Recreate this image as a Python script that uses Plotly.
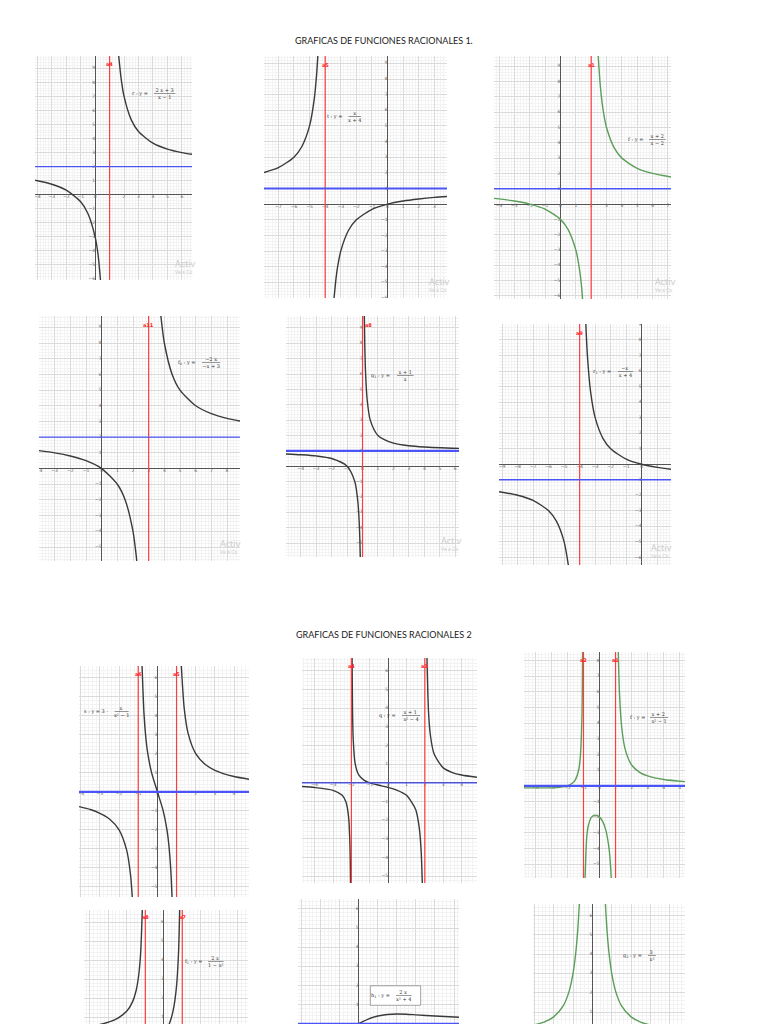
import math
import plotly.graph_objects as go

TITLE_1 = "GRAFICAS DE FUNCIONES RACIONALES 1."
TITLE_2 = "GRAFICAS DE FUNCIONES RACIONALES 2"

# curve points (one x/y list per branch)
P1_X1 = [-4.16, -3, -2, -1, -0.5, 0, 0.2, 0.37]
P1_Y1 = [1.03, 0.75, 0.33, -0.5, -1.33, -3, -4.25, -6.07]
P1_X2 = [1.63, 1.8, 2, 2.5, 3, 4, 5, 6, 6.7]
P1_Y2 = [9.88, 8.25, 7, 5.33, 4.5, 3.67, 3.25, 3, 2.88]

P2_X1 = [-7.92, -7, -6, -5.5, -5, -4.7, -4.55, -4.47]
P2_Y1 = [2.02, 2.33, 3, 3.67, 5, 6.71, 8.27, 9.47]
P2_X2 = [-3.43, -3.3, -3.2, -3, -2.5, -2, -1, 0, 1, 2, 3, 3.81]
P2_Y2 = [-6.0, -4.71, -4.0, -3, -1.67, -1, -0.33, 0, 0.2, 0.33, 0.43, 0.49]

P3_X1 = [-4.33, -3, -2, -1, 0, 0.5, 1, 1.2, 1.35, 1.44]
P3_Y1 = [0.37, 0.2, 0, -0.33, -1, -1.67, -3, -4, -5.15, -6.2]
P3_X2 = [2.46, 2.6, 2.8, 3, 3.5, 4, 5, 6, 7.2]
P3_Y2 = [9.67, 7.67, 6, 5, 3.67, 3, 2.33, 2, 1.77]

P4_X1 = [-4, -3, -2, -1, 0, 1, 1.5, 2, 2.2, 2.24]
P4_Y1 = [1.14, 1, 0.8, 0.5, 0, -1, -2, -4, -5.5, -5.89]
P4_X2 = [3.78, 4, 4.5, 5, 6, 7, 8, 8.83]
P4_Y2 = [9.72, 8, 6, 5, 4, 3.5, 3.2, 3.03]

P5_X1 = [-4.95, -4, -3, -2, -1, -0.5, -0.3, -0.2, -0.145]
P5_Y1 = [0.8, 0.75, 0.67, 0.5, 0, -1, -2.33, -4, -5.91]
P5_X2 = [0.114, 0.15, 0.2, 0.3, 0.5, 1, 2, 3, 4, 6.24]
P5_Y2 = [9.78, 7.67, 6, 4.33, 3, 2, 1.5, 1.33, 1.25, 1.16]

P6_X1 = [-9.2, -8, -7, -6, -5.5, -5, -4.73]
P6_Y1 = [-1.77, -2, -2.33, -3, -3.67, -5, -6.49]
P6_X2 = [-3.6, -3.5, -3.3, -3, -2.5, -2, -1, 0, 1, 1.89]
P6_Y2 = [9.03, 7, 4.71, 3, 1.67, 1, 0.33, 0, -0.2, -0.32]

P7_X1 = [-4.09, -3.5, -3, -2.5, -2, -1.6, -1.4, -1.31]
P7_Y1 = [-0.78, -0.93, -1.13, -1.43, -2, -3.08, -4.38, -5.53]
P7_X2 = [-0.8, -0.7, -0.6, -0.5, -0.3, 0, 0.3, 0.5, 0.6, 0.7, 0.765]
P7_Y2 = [6.61, 4.12, 2.81, 2, 0.99, 0, -0.99, -2, -2.81, -4.12, -5.53]
P7_X3 = [1.25, 1.4, 1.6, 2, 2.5, 3, 4, 4.78]
P7_Y3 = [6.61, 4.38, 3.08, 2, 1.43, 1.13, 0.8, 0.66]

P8_X1 = [-4.69, -4, -3, -2.5, -2.3, -2.15, -2.08, -2.048]
P8_Y1 = [-0.2, -0.25, -0.4, -0.67, -1.01, -1.85, -3.3, -5.36]
P8_X2 = [-1.963, -1.94, -1.9, -1.8, -1.6, -1.3, -1, -0.5, 0, 0.5, 1, 1.5, 1.7, 1.8, 1.862]
P8_Y2 = [6.68, 3.98, 2.31, 1.05, 0.42, 0.13, 0, -0.13, -0.25, -0.4, -0.67, -1.43, -2.44, -3.68, -5.36]
P8_X3 = [2.115, 2.2, 2.3, 2.5, 3, 3.5, 4, 4.84]
P8_Y3 = [6.68, 3.81, 2.56, 1.56, 0.8, 0.55, 0.42, 0.3]

P9_X1 = [-4.71, -4, -3, -2.5, -2, -1.7, -1.5, -1.3, -1.2, -1.1, -1.054]
P9_Y1 = [-0.13, -0.13, -0.13, -0.1, 0, 0.16, 0.4, 1.01, 1.82, 4.29, 8.55]
P9_X2 = [-0.902, -0.8, -0.7, -0.5, -0.27, 0, 0.2, 0.4, 0.6, 0.7, 0.73]
P9_Y2 = [-5.89, -3.33, -2.55, -2, -1.87, -2, -2.29, -2.86, -4.06, -5.29, -5.89]
P9_X3 = [1.17, 1.25, 1.4, 1.6, 2, 2.5, 3, 4, 5.33]
P9_Y3 = [8.55, 5.78, 3.58, 2.33, 1.33, 0.86, 0.63, 0.4, 0.27]

P10_X1 = [-4.32, -3.5, -3, -2.5, -2, -1.7, -1.5, -1.35, -1.25, -1.162]
P10_Y1 = [0.49, 0.62, 0.75, 0.95, 1.33, 1.8, 2.4, 3.28, 4.44, 6.65]
P10_X2 = [0, 0.2, 0.3, 0.4, 0.5, 0.6, 0.7, 0.8, 0.861]
P10_Y2 = [0, 0.42, 0.66, 0.95, 1.33, 1.88, 2.75, 4.44, 6.65]

P11_X1 = [-0.5, 0, 0.5, 1, 1.5, 2, 2.5, 3, 4, 5.26]
P11_Y1 = [-0.24, 0, 0.24, 0.4, 0.48, 0.5, 0.49, 0.46, 0.4, 0.33]

P12_X1 = [-3.07, -2.5, -2, -1.5, -1.2, -1, -0.85, -0.75, -0.675]
P12_Y1 = [0.32, 0.48, 0.75, 1.33, 2.08, 3, 4.15, 5.33, 6.59]
P12_X2 = [0.675, 0.75, 0.85, 1, 1.2, 1.5, 2, 2.5, 3, 3.5]
P12_Y2 = [6.59, 5.33, 4.15, 3, 2.08, 1.33, 0.75, 0.48, 0.33, 0.24]

# asymptotes (red = vertical, blue = horizontal) and their red names
ASYM_V = [[1], [-4], [2], [3], [0], [-4], [-1, 1], [-2, 2], [-1, 1], [-1, 1], [], []]
ASYM_V_NAMES = [["a4"], ["a5"], ["a1"], ["a11"], ["a8"], ["a9"], ["a6", "a5"],
                ["a4", "a3"], ["a2", "a1"], ["a8", "a7"], [], []]
ASYM_H = [[2], [1], [1], [2], [1], [-1], [0], [0], [0], [], [0], []]

# function labels
LABEL_LEFT = ["r : y =", "t : y =", "f : y =", "f<sub>0</sub> : y =", "g<sub>1</sub> : y =",
              "r<sub>1</sub> : y =", "s : y = 3 ·", "q : y =", "f : y =",
              "f<sub>1</sub> : y =", "h<sub>1</sub> : y =", "g<sub>2</sub> : y ="]
LABEL_NUM = ["2 x + 3", "x", "x + 2", "−2 x", "x + 1", "−x", "x", "x + 1", "x + 2", "2 x", "2 x", "3"]
LABEL_DEN = ["x − 1", "x + 4", "x − 2", "−x + 3", "x", "x + 4", "x² − 1", "x² − 4", "x² − 1",
             "1 − x²", "x² + 4", "x²"]

CURVES = [
    [(P1_X1, P1_Y1), (P1_X2, P1_Y2)],
    [(P2_X1, P2_Y1), (P2_X2, P2_Y2)],
    [(P3_X1, P3_Y1), (P3_X2, P3_Y2)],
    [(P4_X1, P4_Y1), (P4_X2, P4_Y2)],
    [(P5_X1, P5_Y1), (P5_X2, P5_Y2)],
    [(P6_X1, P6_Y1), (P6_X2, P6_Y2)],
    [(P7_X1, P7_Y1), (P7_X2, P7_Y2), (P7_X3, P7_Y3)],
    [(P8_X1, P8_Y1), (P8_X2, P8_Y2), (P8_X3, P8_Y3)],
    [(P9_X1, P9_Y1), (P9_X2, P9_Y2), (P9_X3, P9_Y3)],
    [(P10_X1, P10_Y1), (P10_X2, P10_Y2)],
    [(P11_X1, P11_Y1)],
    [(P12_X1, P12_Y1), (P12_X2, P12_Y2)],
]

# layout of each screenshot on the page (pixels), axis windows,
# label spots: (end of "name : y =", label middle y, left of fraction)
W, H = 768, 1024
DARK = "#3a3a3a"
GREEN = "#5a9e5a"
PANELS = [
    dict(box=(35, 56, 192, 280), xr=(-4.16, 6.7), yr=(-6.07, 9.88), col=DARK, bw=1.3, lab=(3.76, 7.2, 3.94)),
    dict(box=(264, 56, 447, 298), xr=(-7.92, 3.81), yr=(-6.0, 9.47), col=DARK, bw=2.2, lab=(-2.8, 5.6, -2.68)),
    dict(box=(494, 56, 671, 299), xr=(-4.33, 7.2), yr=(-6.2, 9.67), col=GREEN, bw=1.6, lab=(5.5, 4.2, 5.65)),
    dict(box=(39, 316, 240, 561), xr=(-4.0, 8.83), yr=(-5.89, 9.72), col=DARK, bw=1.2, lab=(6.17, 6.74, 6.28)),
    dict(box=(286, 316, 459, 557), xr=(-4.95, 6.24), yr=(-5.91, 9.78), col=DARK, bw=2.2, lab=(1.9, 5.9, 2.1),
         va="left"),
    dict(box=(499, 324, 671, 565), xr=(-9.2, 1.89), yr=(-6.49, 9.03), col=DARK, bw=1.3, lab=(-1.83, 5.98, -1.65)),
    dict(box=(79, 666, 249, 897), xr=(-4.09, 4.78), yr=(-5.53, 6.61), col=DARK, bw=2.2, lab=(-2.47, 4.2, -2.35)),
    dict(box=(302, 658, 477, 883), xr=(-4.69, 4.84), yr=(-5.36, 6.68), col=DARK, bw=1.3, lab=(0.53, 3.6, 0.65)),
    dict(box=(524, 652, 685, 878), xr=(-4.71, 5.33), yr=(-5.89, 8.55), col=GREEN, bw=2.2, lab=(2.94, 4.36, 3.04)),
    dict(box=(84, 910, 248, 1024), xr=(-4.32, 4.56), yr=(0.65, 6.65), col=DARK, bw=1.3, lab=(2.22, 3.93, 2.31)),
    dict(box=(298, 899, 459, 1024), xr=(-3.18, 5.26), yr=(-0.02, 6.52), col=DARK, bw=1.6, lab=(1.75, 1.47, 1.84)),
    dict(box=(533, 904, 685, 1024), xr=(-3.07, 4.79), yr=(0.38, 6.59), col=GREEN, bw=1.3, lab=(2.67, 3.93, 2.79)),
]
# "Activar Windows" watermark left/top corner on the first six screenshots
WATERMARKS = [(173, 263), (427, 281), (653, 281), (218, 543), (439, 540), (649, 547)]

fig = go.Figure()
layout = dict(width=W, height=H, autosize=False, margin=dict(l=0, r=0, t=0, b=0),
              paper_bgcolor="white", plot_bgcolor="white", showlegend=False)
shapes, annotations = [], []

for i, p in enumerate(PANELS):
    n = i + 1
    sx = "" if n == 1 else str(n)
    xa, ya = "x" + sx, "y" + sx
    x0, y0, x1, y1 = p["box"]
    common = dict(showticklabels=False, ticks="", dtick=1, tick0=0,
                  showgrid=True, gridcolor="#dadada", gridwidth=0.6,
                  minor=dict(dtick=0.2, tick0=0, showgrid=True, gridcolor="#f3f3f3", gridwidth=0.5),
                  zeroline=True, zerolinecolor="#555555", zerolinewidth=1,
                  showline=False, fixedrange=True)
    layout["xaxis" + sx] = dict(domain=[x0 / W, x1 / W], range=list(p["xr"]), anchor=ya, **common)
    layout["yaxis" + sx] = dict(domain=[1 - y1 / H, 1 - y0 / H], range=list(p["yr"]), anchor=xa, **common)

    # axis numbers next to the axes, GeoGebra style (only where the axis is on show)
    tick_font = dict(size=4.5, color="#666666", family="DejaVu Sans")
    if p["yr"][0] < -0.3:
        xt = [k for k in range(math.ceil(p["xr"][0]), math.floor(p["xr"][1]) + 1)]
        fig.add_trace(go.Scatter(x=xt, y=[0] * len(xt), text=[str(k).replace("-", "−") for k in xt],
                                 mode="text", textposition="bottom center", textfont=tick_font,
                                 xaxis=xa, yaxis=ya, hoverinfo="skip"))
    yt = [k for k in range(math.ceil(p["yr"][0]), math.floor(p["yr"][1]) + 1) if k != 0]
    fig.add_trace(go.Scatter(x=[0] * len(yt), y=yt, text=[str(k).replace("-", "−") for k in yt],
                             mode="text", textposition="middle left", textfont=tick_font,
                             xaxis=xa, yaxis=ya, hoverinfo="skip"))

    for bx, by in CURVES[i]:
        fig.add_trace(go.Scatter(x=bx, y=by, mode="lines",
                                 line=dict(color=p["col"], width=1.4, shape="spline", smoothing=0.7),
                                 xaxis=xa, yaxis=ya, hoverinfo="skip"))

    for c, nm in zip(ASYM_V[i], ASYM_V_NAMES[i]):
        shapes.append(dict(type="line", xref=xa, yref=ya + " domain", x0=c, x1=c, y0=0, y1=1,
                           line=dict(color="#ff3c3c", width=1.2)))
        annotations.append(dict(text="<b>" + nm + "</b>", xref=xa, yref=ya + " domain", x=c, y=0.985,
                                xanchor=p.get("va", "center"), yanchor="top", showarrow=False,
                                font=dict(size=5, color="#ff2020", family="DejaVu Sans")))
    for c in ASYM_H[i]:
        shapes.append(dict(type="line", xref=xa + " domain", yref=ya, x0=0, x1=1, y0=c, y1=c,
                           line=dict(color="#4b55f5", width=p["bw"])))

    # function label: "name : y =" then a stacked fraction
    lx, ly, fx = p["lab"]
    num, den = LABEL_NUM[i], LABEL_DEN[i]
    pad = max(0, len(den) - len(num))
    num_txt = "&nbsp;" * (pad // 2 + 1) + num + "&nbsp;" * (pad - pad // 2 + 1)
    lab_font = dict(size=5, color="#333333", family="DejaVu Serif")
    if n == 11:
        shapes.append(dict(type="rect", xref=xa, yref=ya, x0=0.61, x1=3.25, y0=0.96, y1=1.98,
                           fillcolor="white", line=dict(color="#8c8c8c", width=0.8)))
    annotations.append(dict(text=LABEL_LEFT[i], xref=xa, yref=ya, x=lx, y=ly, xanchor="right",
                            yanchor="middle", showarrow=False, font=lab_font))
    annotations.append(dict(text="<u>" + num_txt + "</u><br>" + den, xref=xa, yref=ya, x=fx, y=ly,
                            xanchor="left", yanchor="middle", showarrow=False, font=lab_font))

for wx, wy in WATERMARKS:
    annotations.append(dict(text="Activ", xref="paper", yref="paper", x=wx / W, y=1 - wy / H,
                            xanchor="left", yanchor="middle", showarrow=False,
                            font=dict(size=9, color="#cdcdcd", family="Noto Sans")))
    annotations.append(dict(text="Ve a Co", xref="paper", yref="paper", x=wx / W, y=1 - (wy + 9) / H,
                            xanchor="left", yanchor="middle", showarrow=False,
                            font=dict(size=5, color="#cdcdcd", family="Noto Sans")))

for txt, ty in [(TITLE_1, 40), (TITLE_2, 634)]:
    annotations.append(dict(text=txt, xref="paper", yref="paper", x=0.5, y=1 - ty / H,
                            xanchor="center", yanchor="middle", showarrow=False,
                            font=dict(size=9, color="#1a1a1a", family="Lato")))

layout["shapes"] = shapes
layout["annotations"] = annotations
fig.update_layout(**layout)

fig.write_html("out.html", config={"displayModeBar": False},
               post_script="document.body.style.margin='0';")
